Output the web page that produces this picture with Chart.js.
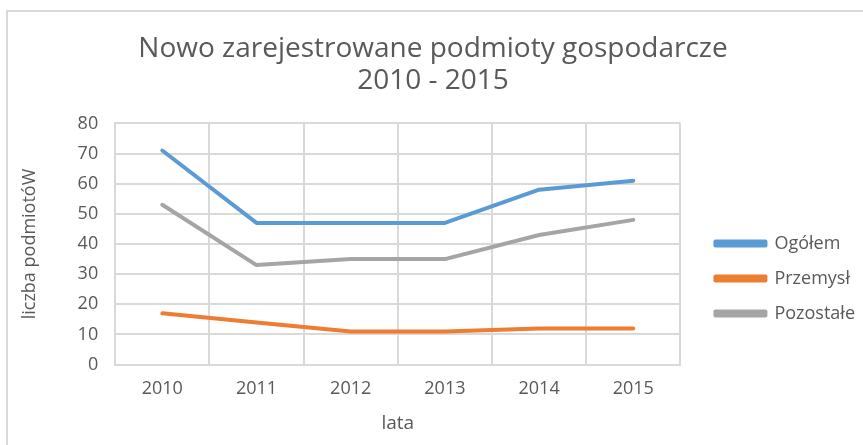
<!DOCTYPE html>
<html>
<head>
<meta charset="utf-8">
<script src="https://cdn.jsdelivr.net/npm/chart.js@4"></script>
<style>
  html, body { margin: 0; padding: 0; background: #fff; }
  #frame {
    position: absolute; left: 6px; top: 10px; width: 870px; height: 450px;
    border-left: 2px solid #d9d9d9; border-top: 2px solid #d9d9d9;
  }
  #wrap { position: absolute; left: 8px; top: 12px; width: 855px; height: 433px; }
</style>
</head>
<body>
<div id="frame"></div>
<div id="wrap"><canvas id="rejChart"></canvas></div>
<script>
// Data
const years = ["2010", "2011", "2012", "2013", "2014", "2015"];
const ogolem = [71, 47, 47, 47, 58, 61];
const przemysl = [17, 14, 11, 11, 12, 12];
const pozostale = [53, 33, 35, 35, 43, 48];

const textColor = "#595959";
const gridColor = "#d9d9d9";
const fontFamily = "'Open Sans', sans-serif";

function lineSet(label, data, color) {
  return {
    label: label,
    data: data,
    borderColor: color,
    backgroundColor: color,
    borderWidth: 4,
    borderCapStyle: "round",
    borderJoinStyle: "round",
    fill: false,
    tension: 0,
    pointRadius: 0,
  };
}

// nudge the legend away from the plot, like in the excel original
const legendOffset = {
  id: "legendOffset",
  afterLayout(chart, args, opts) {
    const lg = chart.legend;
    if (!lg) return;
    lg.left += opts.x;
    lg.right += opts.x;
    lg.top += opts.y;
    lg.bottom += opts.y;
  },
};

const ctx = document.getElementById("rejChart").getContext("2d");
const myChart = new Chart(ctx, {
  type: "line",
  data: {
    labels: years,
    datasets: [
      lineSet("Ogółem", ogolem, "#5b9bd5"),
      lineSet("Przemysł", przemysl, "#ed7d31"),
      lineSet("Pozostałe", pozostale, "#a5a5a5"),
    ],
  },
  plugins: [legendOffset],
  options: {
    responsive: true,
    maintainAspectRatio: false,
    animation: false,
    layout: { padding: { left: 11, right: 16, top: 0, bottom: 10 } },
    scales: {
      x: {
        offset: true,
        grid: { color: gridColor, lineWidth: 2, offset: true, drawTicks: false },
        border: { color: gridColor, width: 2 },
        ticks: { color: textColor, padding: 13, font: { family: fontFamily, size: 18 } },
        title: {
          display: true,
          text: "lata",
          color: textColor,
          padding: { top: 0, bottom: 0 },
          font: { family: fontFamily, size: 19 },
        },
      },
      y: {
        min: 0,
        max: 80,
        grid: { color: gridColor, lineWidth: 2, drawTicks: false },
        border: { color: gridColor, width: 2 },
        ticks: { stepSize: 10, color: textColor, padding: 17, font: { family: fontFamily, size: 18 } },
        title: {
          display: true,
          text: "liczba podmiotóW",
          color: textColor,
          padding: { top: 0, bottom: 20 },
          font: { family: fontFamily, size: 18 },
        },
      },
    },
    plugins: {
      legendOffset: { x: 18, y: 55 },
      legend: {
        display: true,
        position: "right",
        labels: {
          color: textColor,
          boxWidth: 50,
          boxHeight: 4,
          padding: 17,
          font: { family: fontFamily, size: 18 },
        },
      },
      title: {
        display: true,
        text: ["Nowo zarejestrowane podmioty gospodarcze", "2010 - 2015"],
        color: textColor,
        padding: { top: 21, bottom: 26 },
        font: { family: fontFamily, size: 28, weight: "normal", lineHeight: 1.15 },
      },
      tooltip: { enabled: false },
    },
  },
});
</script>
</body>
</html>
